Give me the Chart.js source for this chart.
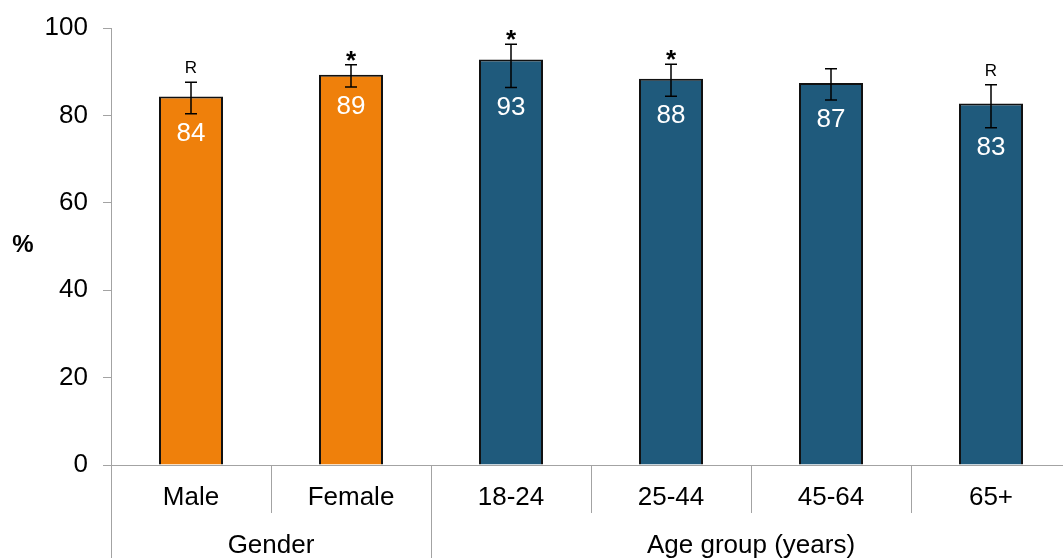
<!DOCTYPE html>
<html>
<head>
<meta charset="utf-8">
<script src="https://cdn.jsdelivr.net/npm/chart.js@4"></script>
<style>
  html, body { margin: 0; padding: 0; background: #fff; overflow: hidden; }
  #wrap { position: absolute; left: 0; top: 0; width: 1080px; height: 558px; }
</style>
</head>
<body>
<div id="wrap"><canvas id="c"></canvas></div>
<script>
// Categories and their grouping on the two-level axis
const categories = ['Male', 'Female', '18-24', '25-44', '45-64', '65+'];
const groupLabels = ['Gender', 'Age group (years)'];
const groupSizes = [2, 4];

// Percentages with 95% confidence limits
const values = [84.3, 89.3, 92.8, 88.4, 87.4, 82.7];
const ciLow  = [80.4, 86.5, 86.4, 84.4, 83.5, 77.2];
const ciHigh = [87.6, 91.6, 96.3, 91.7, 90.7, 87.0];

// Markers above bars: R = relative standard error warning, * = significant difference
const flags = ['R', '*', '*', '*', '', 'R'];

// Y axis ticks
const yTicks = [0, 20, 40, 60, 80, 100];

const FONT = '"Liberation Sans", Arial, Helvetica, sans-serif';
const groupColors = ['#EF800B', '#1F5A7C'];
const AXIS_GREY = '#a3a3a3';

// bar colour follows the group a category belongs to
const barColors = [];
groupSizes.forEach((n, g) => { for (let i = 0; i < n; i++) barColors.push(groupColors[g]); });

const overlay = {
  id: 'overlay',
  afterDatasetsDraw(chart) {
    const ctx = chart.ctx;
    const x = chart.scales.x, y = chart.scales.y;
    const area = chart.chartArea;
    ctx.save();

    // error bars
    ctx.strokeStyle = '#000';
    ctx.lineWidth = 1.5;
    const cap = 6;
    values.forEach((v, i) => {
      const px = x.getPixelForValue(i);
      const yl = y.getPixelForValue(ciLow[i]);
      const yh = y.getPixelForValue(ciHigh[i]);
      ctx.beginPath();
      ctx.moveTo(px, yl); ctx.lineTo(px, yh);
      ctx.moveTo(px - cap, yl); ctx.lineTo(px + cap, yl);
      ctx.moveTo(px - cap, yh); ctx.lineTo(px + cap, yh);
      ctx.stroke();
    });

    // value labels inside bars, just below the lower limit
    ctx.fillStyle = '#fff';
    ctx.font = '26px ' + FONT;
    ctx.textAlign = 'center';
    ctx.textBaseline = 'middle';
    values.forEach((v, i) => {
      const px = x.getPixelForValue(i);
      const yl = y.getPixelForValue(ciLow[i]);
      ctx.fillText(String(Math.round(v)), px, yl + 20);
    });

    // flags above the upper limit
    ctx.fillStyle = '#000';
    ctx.textBaseline = 'alphabetic';
    flags.forEach((f, i) => {
      if (!f) return;
      const px = x.getPixelForValue(i);
      const yh = y.getPixelForValue(ciHigh[i]);
      if (f === '*') {
        ctx.font = 'bold 26px ' + FONT;
        ctx.fillText(f, px, yh + 4);
      } else {
        ctx.font = '17px ' + FONT;
        ctx.fillText(f, px, yh - 9);
      }
    });

    // two-level category axis
    const bottom = area.bottom;
    const H = chart.height;
    const catW = x.getPixelForValue(1) - x.getPixelForValue(0);
    ctx.strokeStyle = AXIS_GREY;
    ctx.lineWidth = 1;
    ctx.beginPath();
    ctx.moveTo(area.left, bottom + 0.5);
    ctx.lineTo(area.right, bottom + 0.5);
    ctx.stroke();

    let idx = 0;
    const edge = (px, y2) => {
      const sx = Math.round(px) + 0.5;
      ctx.beginPath(); ctx.moveTo(sx, bottom); ctx.lineTo(sx, y2); ctx.stroke();
    };
    edge(area.left - 0.5, H);
    groupSizes.forEach((n, g) => {
      const start = x.getPixelForValue(idx) - catW / 2;
      for (let k = 1; k < n; k++) edge(start + k * catW, bottom + 48);
      const end = start + n * catW;
      edge(end, H);
      ctx.fillStyle = '#000';
      ctx.font = '26px ' + FONT;
      ctx.textAlign = 'center';
      ctx.textBaseline = 'middle';
      for (let k = 0; k < n; k++) {
        ctx.fillText(categories[idx + k], start + (k + 0.5) * catW, bottom + 33);
      }
      ctx.fillText(groupLabels[g], (start + end) / 2, bottom + 81);
      idx += n;
    });

    // y axis title
    ctx.font = 'bold 24px ' + FONT;
    ctx.fillText('%', 23, 245);
    ctx.restore();
  }
};

new Chart(document.getElementById('c'), {
  type: 'bar',
  data: {
    labels: categories,
    datasets: [{
      data: values,
      backgroundColor: barColors,
      borderColor: '#111',
      borderWidth: 2,
      borderSkipped: 'start',
      categoryPercentage: 1,
      barPercentage: 0.4
    }]
  },
  options: {
    responsive: true,
    maintainAspectRatio: false,
    animation: false,
    layout: { padding: { top: 28, bottom: 93, right: 9, left: 0 } },
    plugins: { legend: { display: false }, tooltip: { enabled: false } },
    scales: {
      x: { display: false },
      y: {
        min: 0, max: 100,
        afterFit(scale) { scale.width = 111; },
        afterBuildTicks(scale) { scale.ticks = yTicks.map(v => ({ value: v })); },
        ticks: { color: '#000', padding: 15, font: { size: 26, family: FONT, lineHeight: 1 } },
        grid: { drawOnChartArea: false, drawTicks: true, tickLength: 8, color: AXIS_GREY },
        border: { display: true, color: AXIS_GREY, width: 1 }
      }
    }
  },
  plugins: [overlay]
});
</script>
</body>
</html>
